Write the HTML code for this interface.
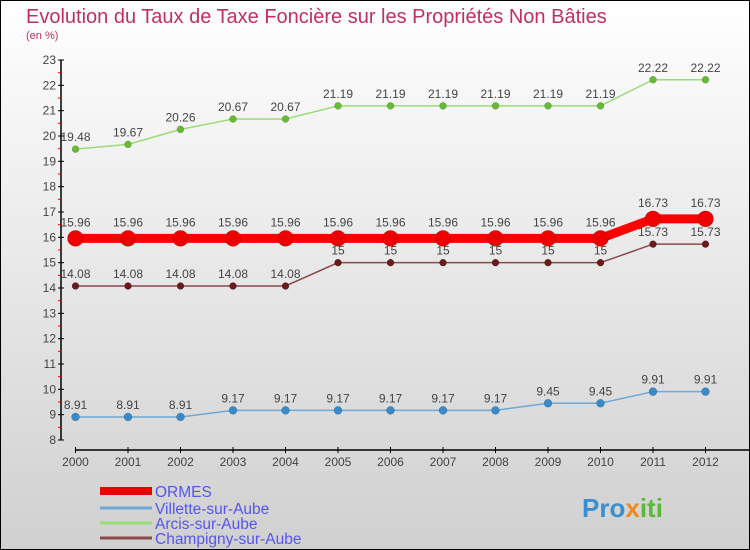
<!DOCTYPE html>
<html><head><meta charset="utf-8"><style>
body{margin:0;}
svg{display:block;font-family:"Liberation Sans",sans-serif;}
</style></head><body>
<svg id="chart" width="750" height="550" viewBox="0 0 750 550">
<defs><linearGradient id="bg" x1="0" y1="0" x2="0" y2="1"><stop offset="0" stop-color="#ffffff"/><stop offset="1" stop-color="#d0d0d0"/></linearGradient></defs>
<rect x="0.5" y="0.5" width="749" height="549" fill="url(#bg)" stroke="#000"/>
<text x="26" y="23" font-size="20" fill="#c0305f">Evolution du Taux de Taxe Foncière sur les Propriétés Non Bâties</text>
<text x="26" y="39" font-size="11" fill="#c0305f">(en %)</text>
<g id="axes"></g>
<g id="series"></g>
<g id="legend"></g>
<text x="582" y="517" font-size="26" font-weight="bold" fill="#3a8fd0">Pro<tspan fill="#f08a1c">x</tspan><tspan fill="#5ab83a">iti</tspan></text>
</svg>
<script>
const years=["2000","2001","2002","2003","2004","2005","2006","2007","2008","2009","2010","2011","2012"];
const yTicks=[8,9,10,11,12,13,14,15,16,17,18,19,20,21,22,23];
const ormes=[15.96,15.96,15.96,15.96,15.96,15.96,15.96,15.96,15.96,15.96,15.96,16.73,16.73];
const villette=[8.91,8.91,8.91,9.17,9.17,9.17,9.17,9.17,9.17,9.45,9.45,9.91,9.91];
const arcis=[19.48,19.67,20.26,20.67,20.67,21.19,21.19,21.19,21.19,21.19,21.19,22.22,22.22];
const champigny=[14.08,14.08,14.08,14.08,14.08,15,15,15,15,15,15,15.73,15.73];
const seriesNames=["ORMES","Villette-sur-Aube","Arcis-sur-Aube","Champigny-sur-Aube"];
const NS="http://www.w3.org/2000/svg";
const x=i=>75.5+i*52.5;
const y=v=>440-(v-8)*(380/15);
function mk(t,a,p){const e=document.createElementNS(NS,t);for(const k in a)e.setAttribute(k,a[k]);p.appendChild(e);return e;}
const ax=document.getElementById('axes');
let l=mk('line',{x1:61,y1:y(23),x2:61,y2:y(8),stroke:'#000','stroke-width':1.5},ax);


yTicks.forEach(v=>{
 mk('line',{x1:58,x2:64,y1:y(v),y2:y(v),stroke:'#000'},ax);
 if(v<23){mk('line',{x1:58,x2:61,y1:y(v+0.5),y2:y(v+0.5),stroke:'#e00'},ax);}
 const t=mk('text',{x:56,y:y(v)+4,'font-size':12,'text-anchor':'end',fill:'#444'},ax);t.textContent=v;
 
 
});
l=mk('line',{x1:75,y1:450,x2:750,y2:450,stroke:'#000','stroke-width':1.5},ax);


years.forEach((yr,i)=>{
 mk('line',{x1:x(i),x2:x(i),y1:447,y2:453,stroke:'#000'},ax);
 const t=mk('text',{x:x(i),y:466,'font-size':12,'text-anchor':'middle',fill:'#444'},ax);t.textContent=yr;
 
 
});
const sg=document.getElementById('series');
const defs=[
 {d:arcis,c:'#99dd77',pc:'#66bb33',w:1.5,r:3.5,n:'arcis'},
 {d:champigny,c:'#8a4a4a',pc:'#6a1a1a',w:1.5,r:3.5,n:'champigny'},
 {d:villette,c:'#6fa8d6',pc:'#3a8ac8',w:1.5,r:4,n:'villette'},
 {d:ormes,c:'#ff0000',pc:'#ee0000',w:9,r:8,n:'ormes'}
];
defs.forEach(s=>{
 const g=mk('g',{},sg);
 
 
 const p=mk('polyline',{points:s.d.map((v,i)=>x(i)+','+y(v)).join(' '),fill:'none',stroke:s.c,'stroke-width':s.w},g);
 
 
 s.d.forEach((v,i)=>{
  const c=mk('circle',{cx:x(i),cy:y(v),r:s.r,fill:s.pc,stroke:'rgba(0,0,0,0.25)','stroke-width':0.5},g);
  
  
  const t=mk('text',{x:x(i),y:y(v)-(s.n==='ormes'?12:8),'font-size':12,'text-anchor':'middle',fill:'#444'},g);
  t.textContent=String(v);
  
  
 });
});
const lg=document.getElementById('legend');
const lc=['#ee0000','#6fa8d6','#99dd77','#8a4a4a'],lw=[8,3,3,3],ly=[491,508,523,538];
seriesNames.forEach((n,i)=>{
 const li=mk('line',{x1:100,x2:152,y1:ly[i],y2:ly[i],stroke:lc[i],'stroke-width':lw[i]},lg);
 
 
 const t=mk('text',{x:155,y:ly[i]+6,'font-size':15.5,fill:'#5555ee'},lg);t.textContent=n;
 
 
});
</script>
</body></html>
